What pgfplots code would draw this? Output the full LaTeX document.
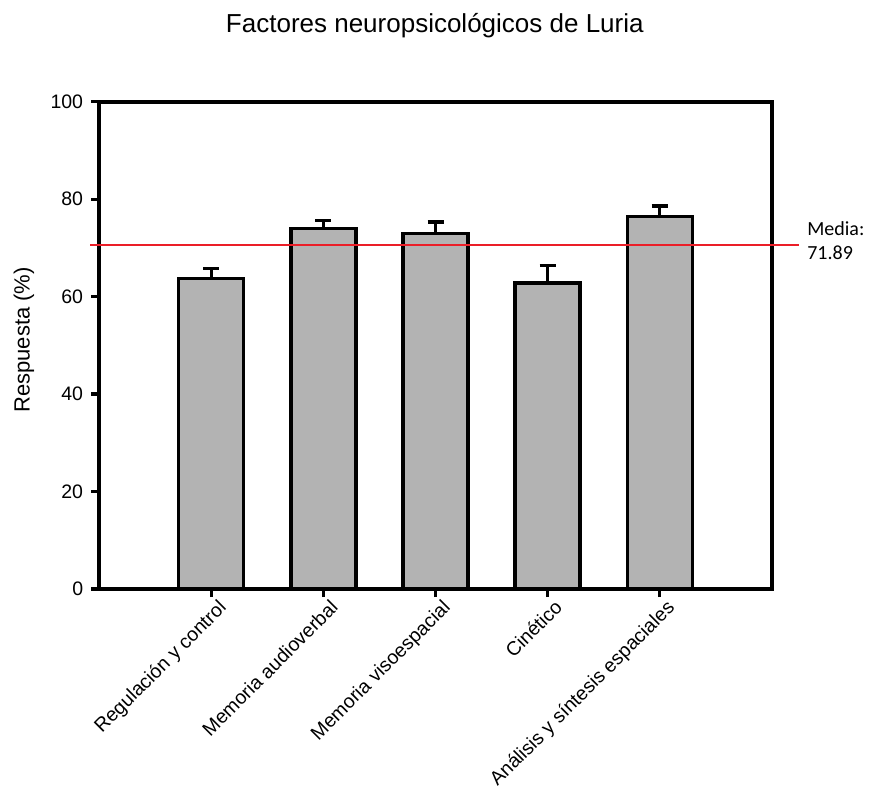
\documentclass[border=0pt]{standalone}
\usepackage{pgfplots}
\pgfplotsset{compat=1.18}
\usepackage{pgfplotstable}
\usepackage{fontspec}
\setmainfont{Liberation Sans}
\newfontfamily\calibri{Carlito}
\definecolor{barfill}{RGB}{179,179,179}
\definecolor{meanred}{RGB}{235,30,40}
\pgfplotstableread{
x y e
0 63.7 2.0
1 74.0 1.6
2 72.9 2.4
3 62.8 3.6
4 76.5 2.1
}\datatable
\begin{document}
\begin{tikzpicture}
\path[use as bounding box] (-99.3pt,-197pt) rectangle (769.7pt,589pt);
\begin{axis}[
  at={(0pt,0pt)}, anchor=south west,
  scale only axis, width=672.4pt, height=487.3pt,
  xmin=-1, xmax=5, ymin=0, ymax=100,
  xtick={0,1,2,3,4},
  xticklabels={Regulación y control, Memoria audioverbal, Memoria visoespacial, Cinético, Análisis y síntesis espaciales},
  ytick={0,20,40,60,80,100},
  tick align=outside, xtick pos=lower, ytick pos=left,
  major tick length=8pt,
  axis line style={line width=3.8pt},
  every tick/.style={black, line width=3.2pt},
  /pgf/number format/assume math mode=true,
  tick label style={font=\fontsize{19.5}{22}\selectfont},
  xticklabel style={rotate=45, anchor=north east, inner sep=0pt, xshift=3pt, yshift=-5pt},
  yticklabel style={inner sep=0pt, xshift=-8pt},
  ylabel={Respuesta (\%)},
  ylabel style={font=\fontsize{22}{26}\selectfont, at={(axis description cs:-0.112,0.511)}, anchor=center},
  clip=false,
]
\addplot[ybar, bar width=0.58, fill=barfill, draw=black, line width=3.2pt,
  error bars/.cd, y dir=plus, y explicit,
  error bar style={line width=3.2pt, black},
  error mark options={rotate=90, mark size=8pt, line width=3.2pt, black}]
  table[x=x, y=y, y error=e] {\datatable};
\addplot[draw=meanred, color=meanred, line width=2pt, mark=none, forget plot] coordinates {(-1.08,70.5) (5.24,70.5)};
\node[anchor=base west, inner sep=0pt, font=\calibri\fontsize{20}{24}\selectfont] at (axis cs:5.316,72.6) {Media:};
\node[anchor=base west, inner sep=0pt, font=\calibri\fontsize{20}{24}\selectfont] at (axis cs:5.316,67.66) {71.89};
\node[anchor=base, inner sep=0pt, font=\fontsize{26}{30}\selectfont] at (axis description cs:0.499,1.143) {Factores neuropsicológicos de Luria};
\end{axis}
\end{tikzpicture}
\end{document}
